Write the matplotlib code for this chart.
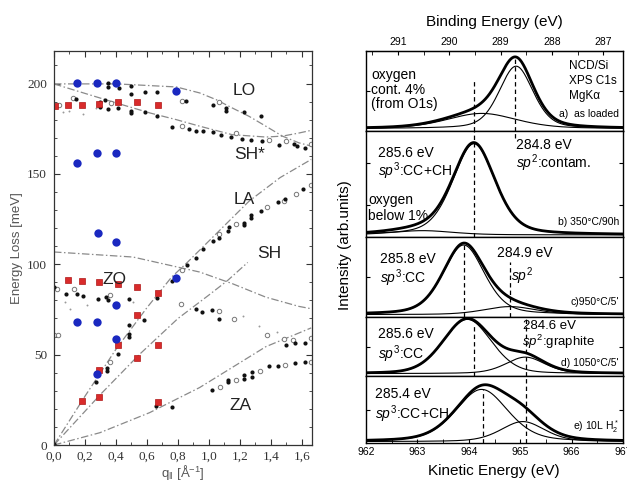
import numpy as np
import matplotlib
matplotlib.use("Agg")
import matplotlib.pyplot as plt
from matplotlib.ticker import MultipleLocator, FuncFormatter

plt.rcParams['font.family'] = ['Liberation Sans', 'DejaVu Sans']
plt.rcParams['mathtext.fontset'] = 'custom'
plt.rcParams['mathtext.rm'] = 'Liberation Sans'
plt.rcParams['mathtext.it'] = 'Liberation Sans:italic'

# ---------------- left panel: phonon dispersion ----------------
blue_q = [0.146, 0.28, 0.40, 0.79, 0.146, 0.28, 0.40, 0.285, 0.398, 0.146, 0.28, 0.40, 0.40, 0.28, 0.79]
blue_E = [200.4, 200.4, 200.4, 195.8, 156.2, 161.3, 161.3, 117.4, 112.4, 68.3, 68.3, 77.6, 58.5, 39.3, 92.6]

red_q = [0.006, 0.09, 0.18, 0.29, 0.41, 0.535, 0.67,
         0.09, 0.18, 0.29, 0.41, 0.535, 0.67,
         0.535, 0.41, 0.29, 0.18, 0.29, 0.535, 0.67, 0.67]
red_E = [187.8, 188.3, 188.3, 188.9, 189.6, 189.6, 188.3,
         91.5, 90.7, 90.2, 89.3, 87.4, 84.1,
         72.2, 55.4, 41.5, 24.4, 26.7, 47.9, 55.4, 23.9]

black_q = [0.14, 0.30, 0.33, 0.35, 0.35, 0.42, 0.50, 0.50, 0.585, 0.666, 0.853, 1.024, 1.11, 1.11, 1.228, 1.335,
           0.30, 0.35, 0.41, 0.50, 0.50, 0.585, 0.666, 0.763, 0.87, 0.917, 0.96, 1.024, 1.078, 1.142, 1.213,
           1.27, 1.345, 1.45, 1.55, 1.57, 1.62,
           0.27, 0.339, 0.339, 0.41, 0.484, 0.484, 0.484, 0.58, 0.763, 0.857, 0.917, 0.96, 1.024, 1.067, 1.12,
           1.131, 1.223, 1.223, 1.27, 1.27, 1.335, 1.448, 1.49, 1.61,
           0.0, 0.077, 0.146, 0.19, 0.285, 0.334, 0.35, 0.484, 0.664, 0.917, 0.955, 1.02, 1.067,
           1.495, 1.555, 1.62,
           0.0, 0.66, 0.763, 1.02, 1.12, 1.12, 1.223, 1.223, 1.28, 1.28, 1.388, 1.448, 1.555, 1.62]
black_E = [191.5, 190.0, 191.0, 200.4, 198.0, 197.6, 198.9, 194.3, 195.2, 195.2, 190.2, 188.3, 186.5, 185.0, 184.0, 181.9,
           187.0, 186.0, 186.5, 184.6, 183.6, 184.3, 182.2, 175.9, 174.8, 174.0, 173.5, 173.1, 171.7, 170.5, 169.5,
           168.5, 168.0, 166.1, 166.5, 165.2, 164.3,
           34.6, 42.6, 41.1, 50.4, 60.0, 61.5, 66.5, 69.4, 90.6, 99.4, 103.7, 108.7, 113.0, 114.3, 118.5,
           120.4, 121.7, 122.6, 125.4, 127.2, 129.6, 134.6, 136.0, 141.7,
           87.4, 83.7, 83.7, 82.4, 80.6, 81.9, 80.0, 80.6, 81.3, 75.4, 73.5, 74.8, 69.8,
           55.4, 56.3, 56.3,
           0.5, 21.7, 21.3, 30.5, 34.6, 36.0, 36.5, 38.9, 37.8, 40.2, 43.9, 43.9, 45.2, 45.7]

open_q = [0.03, 0.124, 0.37, 0.827, 1.067, 0.827, 1.174, 1.388, 1.495, 1.656,
          0.827, 1.067, 1.174, 1.377, 1.485, 1.56, 1.656, 0.36,
          0.0, 0.028, 0.017, 0.129, 0.36, 0.82, 1.063, 1.163, 1.377, 1.485, 1.54, 1.66,
          1.07, 1.174, 1.33, 1.49, 1.656]
open_E = [188.0, 192.0, 189.3, 190.2, 189.6, 176.3, 172.6, 168.7, 168.0, 166.5,
          96.7, 117.0, 122.2, 131.8, 135.2, 138.7, 143.9, 45.7,
          61.0, 61.0, 86.5, 86.5, 83.2, 78.2, 73.9, 69.8, 61.0, 58.7, 58.0, 59.0,
          32.0, 36.1, 41.0, 44.2, 46.0]

tiny_q = [0.06, 0.19, 0.27, 0.10, 0.071, 0.103, 0.21, 0.51, 1.217, 1.324, 1.44]
tiny_E = [184.0, 183.2, 186.5, 185.0, 79.0, 75.4, 77.6, 79.0, 71.3, 65.7, 62.4]

# theory curves (dash-dot)
lo_q = [0.0, 0.405, 0.79, 0.94, 1.046, 1.15, 1.26, 1.367, 1.474, 1.58, 1.66]
lo_E = [199.8, 199.8, 198.1, 194.8, 191.1, 186.5, 181.8, 176.4, 170.9, 167.2, 165.4]
shs_q = [0.0, 0.19, 0.40, 0.62, 0.79, 0.94, 1.15, 1.367, 1.474, 1.58, 1.66]
shs_E = [199.8, 194.8, 189.3, 183.7, 180.0, 176.4, 171.7, 170.4, 170.9, 172.6, 174.1]
la_q = [0.0, 0.2, 0.4, 0.6, 0.76, 0.86, 1.06, 1.26, 1.46, 1.66]
la_E = [0.0, 27.0, 53.0, 76.0, 93.0, 101.0, 118.0, 135.0, 148.0, 158.0]
sh_q = [0.0, 0.3, 0.55, 0.8, 1.0, 1.12, 1.25]
sh_E = [0.0, 28.0, 50.0, 70.0, 83.0, 91.0, 101.0]
zo_q = [0.0, 0.51, 0.94, 1.15, 1.367, 1.58, 1.66]
zo_E = [106.8, 104.0, 95.7, 89.3, 81.8, 76.7, 75.4]
za_q = [0.0, 0.296, 0.617, 0.94, 1.15, 1.367, 1.66]
za_E = [0.0, 6.8, 17.9, 31.8, 42.9, 54.4, 64.8]

branch_names = ['LO', 'SH*', 'LA', 'SH', 'ZO', 'ZA']
branch_pos = [(1.15, 196), (1.16, 160.5), (1.16, 135.6), (1.31, 105.7), (0.31, 91.3), (1.13, 21.6)]

# ---------------- right panel: XPS C1s ----------------
panel_tags = ['a)  as loaded', 'b) 350°C/90h', "c)950°C/5'", "d) 1050°C/5'", 'e) 10L H$_2^*$']
baselines = [0.03, 0.02, 0.03, 0.04, 0.02]
# main sp3 / contamination component: centre (KE, eV), height, fwhm, lorentz fraction
main_c = [964.92, 964.10, 963.90, 963.97, 964.25]
main_h = [0.78, 0.86, 0.87, 0.92, 0.78]
main_w = [0.78, 0.97, 0.95, 1.10, 1.20]
main_eta = [0.35, 0.35, 0.35, 0.2, 0.35]
# second component
sec_c = [964.25, 963.10, 964.80, 965.10, 965.05]
sec_h = [0.19, 0.04, 0.10, 0.28, 0.30]
sec_w = [1.60, 1.40, 1.20, 0.90, 1.00]
# dashed marker lines: (KE, ymin, ymax) per panel
dash_lines = [[(964.11, 0.0, 0.62), (964.89, 0.0, 0.93)],
              [(964.11, 0.0, 1.0), (964.89, 0.93, 1.0)],
              [(963.91, 0.0, 0.93), (964.80, 0.0, 0.69)],
              [(964.11, 0.0, 0.86), (965.11, 0.0, 1.0)],
              [(964.27, 0.0, 0.79), (965.11, 0.0, 1.0)]]
HV = 1253.62


def pvoigt(x, c, h, w, eta=0.35):
    t = (x - c) / w
    g = np.exp(-4 * np.log(2) * t ** 2)
    l = 1.0 / (1 + 4 * t ** 2)
    return h * ((1 - eta) * g + eta * l)


W, H = 627, 482
fig = plt.figure(figsize=(W / 100, H / 100), dpi=100)


def px(x, y, s, **kw):
    kw.setdefault('va', 'center')
    fig.text(x / W, 1 - y / H, s, **kw)


# left axes
axl = fig.add_axes([54 / W, 1 - 445 / H, 258 / W, 394 / H])
axl.set_xlim(0, 1.665)
axl.set_ylim(0, 218)
gray = '#8a8a8a'
for q, e in [(lo_q, lo_E), (shs_q, shs_E), (la_q, la_E), (sh_q, sh_E), (zo_q, zo_E), (za_q, za_E)]:
    axl.plot(q, e, color=gray, lw=0.9, dashes=(6, 2, 1.2, 2))
axl.plot(tiny_q, tiny_E, 'o', ms=1.4, color='#999999', mew=0)
axl.plot(open_q, open_E, 'o', ms=3.2, mfc='white', mec='#777777', mew=0.7)
axl.plot(black_q, black_E, 'o', ms=3.0, color='#111111', mew=0)
axl.plot(red_q, red_E, 's', ms=5.0, mfc='#d92b2b', mec='#b01818', mew=0.5)
axl.plot(blue_q, blue_E, 'o', ms=6.0, color='#1a28c0', mew=0)
for name, (x, y) in zip(branch_names, branch_pos):
    axl.text(x, y, name, fontsize=12.5, color='#222222', va='center')
axl.xaxis.set_major_locator(MultipleLocator(0.2))
axl.xaxis.set_minor_locator(MultipleLocator(0.1))
axl.yaxis.set_major_locator(MultipleLocator(50))
axl.yaxis.set_minor_locator(MultipleLocator(10))
axl.xaxis.set_major_formatter(FuncFormatter(lambda v, p: f'{v:.1f}'.replace('.', ',')))
axl.tick_params(which='both', direction='in', top=True, right=True, colors='#333333',
                labelsize=9.5, labelfontfamily='Liberation Serif')
axl.tick_params(axis='y', pad=5)
axl.tick_params(axis='x', pad=4)
axl.tick_params(which='major', length=4)
axl.tick_params(which='minor', length=2.5)
for s in axl.spines.values():
    s.set_color('#333333')
    s.set_linewidth(0.9)
axl.set_ylabel('Energy Loss [meV]', fontsize=9.5, color='#555555', labelpad=3)
axl.set_xlabel(r'q$_{\|}$ [Å$^{-1}$]', fontsize=9.5, color='#555555', labelpad=0)

# right stacked axes
edges = [51, 131, 237, 317, 376, 443]
x = np.linspace(962, 967, 600)
axes = []
for i in range(5):
    top, bot = edges[i], edges[i + 1]
    ax = fig.add_axes([366 / W, 1 - bot / H, 257 / W, (bot - top) / H])
    ax.set_xlim(962, 967)
    ax.set_ylim(0, 1)
    m = pvoigt(x, main_c[i], main_h[i], main_w[i], main_eta[i])
    s2 = pvoigt(x, sec_c[i], sec_h[i], sec_w[i])
    ax.plot(x, baselines[i] + m + s2, color='black', lw=2.0)
    ax.plot(x, baselines[i] + m, color='black', lw=0.8)
    ax.plot(x, baselines[i] + s2, color='black', lw=0.8)
    for xc, y0, y1 in dash_lines[i]:
        ax.plot([xc, xc], [y0, y1], color='black', lw=0.9, dashes=(3.5, 2.5))
    ax.set_yticks([0.5] if i != 1 else [0.3, 0.7])
    ax.tick_params(axis='y', direction='in', left=True, right=True, labelleft=False, length=3)
    ax.xaxis.set_major_locator(MultipleLocator(1))
    ax.xaxis.set_minor_locator(MultipleLocator(0.5))
    ax.tick_params(axis='x', which='both', direction='in', length=3, labelsize=7.5, pad=3)
    if i < 4:
        ax.tick_params(axis='x', which='both', bottom=False, labelbottom=False)
    for s in ax.spines.values():
        s.set_linewidth(1.0)
    axes.append(ax)

sec = axes[0].secondary_xaxis('top', functions=(lambda k: HV - k, lambda b: HV - b))
sec.xaxis.set_major_locator(MultipleLocator(1))
sec.xaxis.set_minor_locator(MultipleLocator(0.5))
sec.tick_params(axis='x', which='both', direction='in', length=3, labelsize=7.5, pad=3)

px(494, 22, 'Binding Energy (eV)', fontsize=11, ha='center')
px(494, 471, 'Kinetic Energy (eV)', fontsize=11, ha='center')
px(345, 245, 'Intensity (arb.units)', fontsize=11, ha='center', rotation=90)

fs = 10
# panel a
px(371, 75, 'oxygen', fontsize=fs)
px(371, 90, 'cont. 4%', fontsize=fs)
px(371, 104, '(from O1s)', fontsize=fs)
px(569, 66, 'NCD/Si', fontsize=8.5)
px(569, 81, 'XPS C1s', fontsize=8.5)
px(569, 96, 'MgKα', fontsize=8.5)
# panel b
px(378, 153, '285.6 eV', fontsize=fs)
px(378, 171, r'$sp^3$:CC+CH', fontsize=fs)
px(368, 200, 'oxygen', fontsize=fs)
px(368, 216, 'below 1%', fontsize=fs)
px(516, 145, '284.8 eV', fontsize=fs)
px(516, 163, r'$sp^2$:contam.', fontsize=fs)
# panel c
px(380, 259, '285.8 eV', fontsize=fs)
px(380, 278, r'$sp^3$:CC', fontsize=fs)
px(497, 253, '284.9 eV', fontsize=fs)
px(511, 276, r'$sp^2$', fontsize=fs)
# panel d
px(378, 334, '285.6 eV', fontsize=fs)
px(378, 354, r'$sp^3$:CC', fontsize=fs)
px(523, 326, '284.6 eV', fontsize=9.5)
px(522, 342, r'$sp^2$:graphite', fontsize=9.5)
# panel e
px(375, 394, '285.4 eV', fontsize=fs)
px(375, 414, r'$sp^3$:CC+CH', fontsize=fs)

tag_y = [114, 222, 302, 363, 427]
for tag, ty in zip(panel_tags, tag_y):
    px(619, ty, tag, fontsize=7.5, ha='right')

fig.savefig('out.png', dpi=100)
